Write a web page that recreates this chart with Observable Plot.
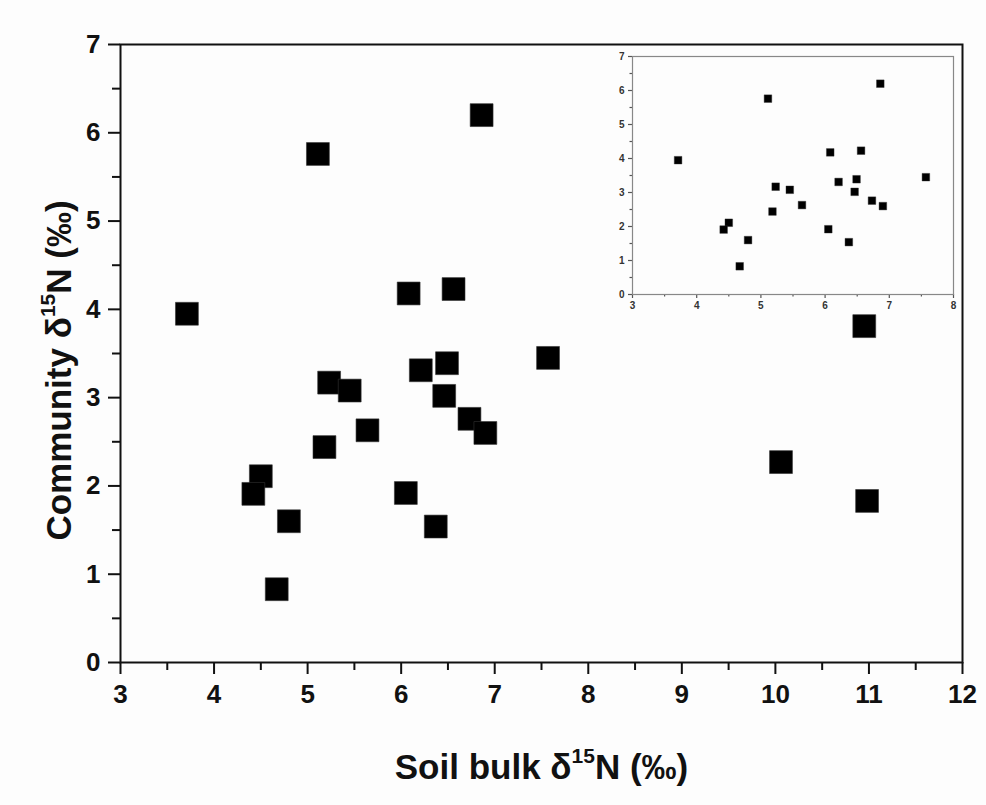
<!DOCTYPE html>
<html>
<head>
<meta charset="utf-8">
<script src="https://cdn.jsdelivr.net/npm/d3@7"></script>
<script src="https://cdn.jsdelivr.net/npm/@observablehq/plot@0.6"></script>
<style>
  html, body { margin: 0; padding: 0; background: #fdfdfd; }
  #wrap { position: relative; width: 986px; height: 805px; }
  #inset { position: absolute; left: 590px; top: 46px; }
  svg { background: transparent !important; }
</style>
</head>
<body>
<div id="wrap"><div id="main"></div><div id="inset"></div></div>
<script>
// Soil bulk δ15N (x) and community δ15N (y), ‰
const soilBulk = [3.71, 5.11, 6.86, 6.08, 6.56, 7.57, 6.49, 6.21, 5.23, 5.45, 6.46, 6.73, 6.90, 5.64, 5.18, 4.50, 4.42, 4.80, 6.05, 6.37, 4.67, 10.95, 10.06, 10.98];
const community = [3.95, 5.76, 6.20, 4.18, 4.23, 3.45, 3.39, 3.31, 3.17, 3.08, 3.02, 2.76, 2.60, 2.63, 2.44, 2.11, 1.91, 1.60, 1.92, 1.54, 0.83, 3.81, 2.27, 1.83];

const xTicksMain = [3, 4, 5, 6, 7, 8, 9, 10, 11, 12];
const xMinorMain = [3.5, 4.5, 5.5, 6.5, 7.5, 8.5, 9.5, 10.5, 11.5];
const yTicks = [0, 1, 2, 3, 4, 5, 6, 7];
const yMinor = [0.5, 1.5, 2.5, 3.5, 4.5, 5.5, 6.5];
const xTicksInset = [3, 4, 5, 6, 7, 8];
const xMinorInset = [3.5, 4.5, 5.5, 6.5, 7.5];

const xTitle = "Soil bulk δ15N (‰)";
const yTitle = "Community δ15N (‰)";

const points = soilBulk.map((x, i) => ({x, y: community[i]}));
const insetPoints = points.filter(d => d.x <= 8);

const FONT = "'Liberation Sans', Arial, Helvetica, sans-serif";
const INK = "#111";

const main = Plot.plot({
  width: 986,
  height: 805,
  marginTop: 44,
  marginBottom: 143,
  marginLeft: 120,
  marginRight: 24,
  style: {fontFamily: FONT, fontSize: "26px", fontWeight: "bold", color: INK, background: "transparent"},
  x: {domain: [3, 12], label: null},
  y: {domain: [0, 7], label: null},
  marks: [
    Plot.axisX({ticks: xTicksMain, tickSize: 12, tickPadding: 10, strokeWidth: 2, stroke: INK, fill: INK, tickFormat: d => String(d), fontSize: 26, fontWeight: "bold", label: null}),
    Plot.axisX({ticks: xMinorMain, tickSize: 8, strokeWidth: 2, stroke: INK, text: null, label: null}),
    Plot.axisY({ticks: yTicks, tickSize: 12, tickPadding: 8, strokeWidth: 2, stroke: INK, fill: INK, tickFormat: d => String(d), fontSize: 26, fontWeight: "bold", label: null}),
    Plot.axisY({ticks: yMinor, tickSize: 8, strokeWidth: 2, stroke: INK, text: null, label: null}),
    Plot.frame({stroke: INK, strokeWidth: 2}),
    Plot.dot(points, {x: "x", y: "y", symbol: "square", r: 12.9, fill: "#000", stroke: "#333", strokeWidth: 0.6}),
    Plot.text([xTitle], {frameAnchor: "bottom", text: d => d, textAnchor: "middle", dy: 105, lineAnchor: "middle", fontSize: 35, fontWeight: "bold", fill: INK}),
    Plot.text([yTitle], {frameAnchor: "left", text: d => d, textAnchor: "middle", rotate: -90, dx: -61, dy: 17, lineAnchor: "middle", fontSize: 35, fontWeight: "bold", fill: INK})
  ]
});
document.getElementById("main").appendChild(main);

const inset = Plot.plot({
  width: 370,
  height: 270,
  marginTop: 10,
  marginBottom: 22,
  marginLeft: 42,
  marginRight: 7,
  style: {fontFamily: FONT, fontSize: "10px", fontWeight: "bold", color: "#333", background: "transparent"},
  x: {domain: [3, 8], label: null},
  y: {domain: [0, 7], label: null},
  marks: [
    Plot.axisX({ticks: xTicksInset, tickSize: 4, tickPadding: 3, strokeWidth: 1.2, stroke: "#555", fill: "#333", tickFormat: d => String(d), fontSize: 10, fontWeight: "bold", label: null}),
    Plot.axisX({ticks: xMinorInset, tickSize: 2.5, strokeWidth: 1.2, stroke: "#555", text: null, label: null}),
    Plot.axisY({ticks: yTicks, tickSize: 4, tickPadding: 4, strokeWidth: 1.2, stroke: "#555", fill: "#333", tickFormat: d => String(d), fontSize: 10, fontWeight: "bold", label: null}),
    Plot.axisY({ticks: yMinor, tickSize: 2.5, strokeWidth: 1.2, stroke: "#555", text: null, label: null}),
    Plot.frame({stroke: "#888", strokeWidth: 1.2}),
    Plot.dot(insetPoints, {x: "x", y: "y", symbol: "square", r: 4.3, fill: "#000", stroke: "#333", strokeWidth: 0.4})
  ]
});
document.getElementById("inset").appendChild(inset);

// superscript the isotope mass number in the axis titles
d3.select(main).selectAll("text").each(function () {
  const t = d3.select(this);
  const s = t.text();
  const i = s.indexOf("δ15N");
  if (i < 0) return;
  t.selectAll("*").remove();
  t.text(null);
  t.append("tspan").text(s.slice(0, i + 1));
  t.append("tspan").attr("font-size", 21).attr("dy", -16).text("15");
  t.append("tspan").attr("dy", 16).text(s.slice(i + 3));
});
</script>
</body>
</html>
